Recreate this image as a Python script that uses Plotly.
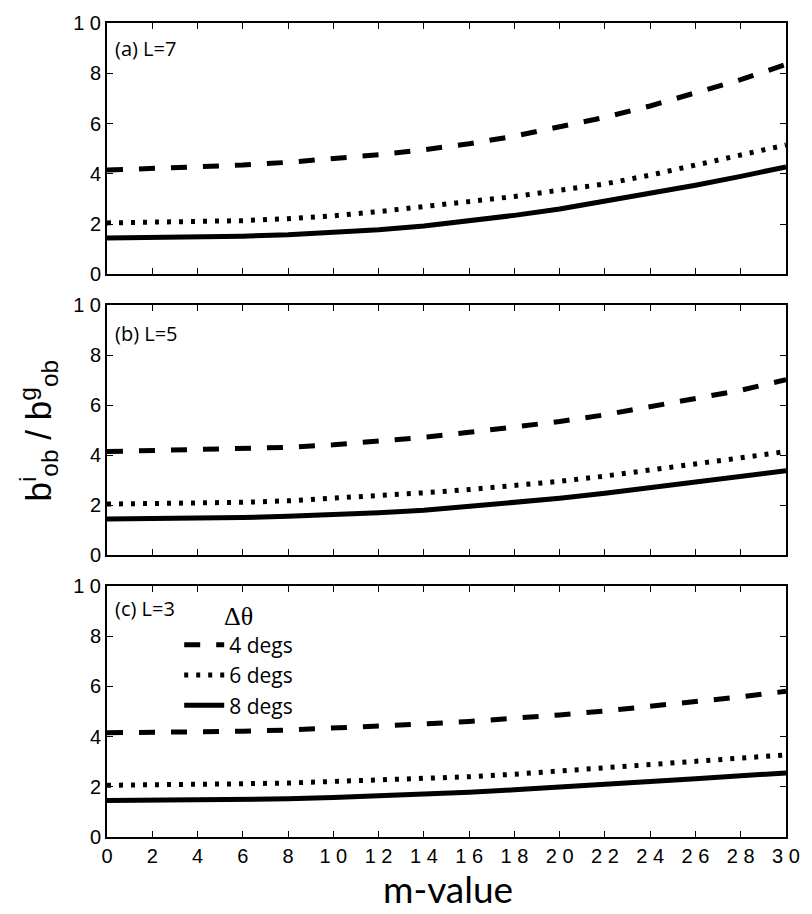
import plotly.graph_objects as go

m_values = [0, 2, 4, 6, 8, 10, 12, 14, 16, 18, 20, 22, 24, 26, 28, 30]

# Panel (a) L=7
a_4deg = [4.15, 4.20, 4.26, 4.35, 4.46, 4.60, 4.76, 4.96, 5.20, 5.50, 5.85, 6.25, 6.70, 7.20, 7.75, 8.35]
a_6deg = [2.05, 2.07, 2.10, 2.14, 2.22, 2.33, 2.50, 2.70, 2.88, 3.10, 3.35, 3.60, 3.95, 4.35, 4.75, 5.15]
a_8deg = [1.45, 1.46, 1.48, 1.52, 1.58, 1.66, 1.78, 1.93, 2.12, 2.35, 2.60, 2.90, 3.20, 3.55, 3.90, 4.28]

# Panel (b) L=5
b_4deg = [4.15, 4.18, 4.21, 4.25, 4.32, 4.42, 4.55, 4.72, 4.92, 5.12, 5.35, 5.62, 5.93, 6.25, 6.60, 7.02]
b_6deg = [2.05, 2.06, 2.09, 2.12, 2.18, 2.27, 2.38, 2.50, 2.63, 2.78, 2.96, 3.17, 3.40, 3.65, 3.90, 4.15]
b_8deg = [1.45, 1.46, 1.48, 1.51, 1.56, 1.62, 1.70, 1.80, 1.95, 2.10, 2.28, 2.48, 2.70, 2.92, 3.15, 3.38]

# Panel (c) L=3
c_4deg = [4.15, 4.16, 4.18, 4.21, 4.26, 4.33, 4.41, 4.50, 4.60, 4.72, 4.86, 5.02, 5.20, 5.39, 5.58, 5.80]
c_6deg = [2.06, 2.07, 2.09, 2.12, 2.15, 2.20, 2.26, 2.32, 2.40, 2.50, 2.62, 2.74, 2.87, 3.00, 3.13, 3.27]
c_8deg = [1.45, 1.46, 1.47, 1.49, 1.52, 1.57, 1.63, 1.70, 1.78, 1.88, 1.98, 2.09, 2.20, 2.32, 2.44, 2.55]

panel_labels = ["(a) L=7", "(b) L=5", "(c) L=3"]
series_names = ["4 degs", "6 degs", "8 degs"]
x_tick_vals = list(range(0, 31, 2))
x_tick_text = ["0", "2", "4", "6", "8", "1 0", "1 2", "1 4", "1 6", "1 8", "2 0", "2 2", "2 4", "2 6", "2 8", "3 0"]
y_tick_vals = [0, 2, 4, 6, 8, 10]
y_tick_text = ["0", "2", "4", "6", "8", "1 0"]

panels = [
    (a_4deg, a_6deg, a_8deg),
    (b_4deg, b_6deg, b_8deg),
    (c_4deg, c_6deg, c_8deg),
]
dash_styles = ["16px,16px", "4px,8px", "solid"]
widths = [5, 5, 5]

W, H = 812, 914
ml, mr, mt, mb = 107, 18.5, 17.7, 77.3
plot_h = H - mt - mb

def frac(ypix):
    return (H - mb - ypix) / plot_h

domains = [
    [frac(270.7), 1.0],
    [frac(553.3), frac(301.7)],
    [0.0, frac(584.0)],
]

fig = go.Figure()
axis_names = [("x", "y"), ("x2", "y2"), ("x3", "y3")]
for i, series in enumerate(panels):
    xa, ya = axis_names[i]
    for j, vals in enumerate(series):
        fig.add_trace(go.Scatter(
            x=m_values, y=vals, mode="lines",
            name=series_names[j],
            line=dict(color="black", width=widths[j], dash=dash_styles[j]),
            xaxis=xa, yaxis=ya,
            showlegend=(i == 2),
        ))

tick_font = dict(family="Liberation Sans, Arial, sans-serif", size=20, color="black")
common_x = dict(range=[0, 30], tickvals=x_tick_vals, ticktext=x_tick_text,
                ticks="inside", ticklen=6, tickwidth=1, tickcolor="black",
                showline=True, linewidth=2, linecolor="black", mirror="ticks",
                showgrid=False, zeroline=False, tickfont=tick_font)
common_y = dict(range=[0, 10], tickvals=y_tick_vals, ticktext=y_tick_text,
                ticks="inside", ticklen=6, tickwidth=1, tickcolor="black",
                showline=True, linewidth=2, linecolor="black", mirror="ticks",
                showgrid=False, zeroline=False, tickfont=tick_font)

layout = dict(
    width=W, height=H,
    margin=dict(l=ml, r=mr, t=mt, b=mb),
    paper_bgcolor="white", plot_bgcolor="white",
    showlegend=True,
    legend=dict(
        x=(180 - ml) / (W - ml - mr), y=frac(589), xanchor="left", yanchor="top",
        bgcolor="rgba(0,0,0,0)", borderwidth=0,
        font=dict(family="Open Sans, Lato, sans-serif", size=21, color="black"),
        title=dict(text="Δθ", side="top center",
                   font=dict(family="Liberation Serif, serif", size=26, color="black")),
        tracegroupgap=0, itemwidth=40,
    ),
)
for i in range(3):
    sx = "" if i == 0 else str(i + 1)
    xd = dict(common_x, domain=[0, 1], anchor="y" + sx)
    if i < 2:
        xd["showticklabels"] = False
        xd["matches"] = "x3"
    layout["xaxis" + sx] = xd
    layout["yaxis" + sx] = dict(common_y, domain=domains[i], anchor="x" + sx)

fig.update_layout(**layout)

label_y = [43, 330, 607]
for i, txt in enumerate(panel_labels):
    fig.add_annotation(text=txt, xref="paper", yref="paper",
                       x=(113 - ml) / (W - ml - mr), y=frac(label_y[i]),
                       xanchor="left", yanchor="middle", showarrow=False,
                       font=dict(family="Open Sans, Lato, sans-serif", size=20, color="black"))

fig.add_annotation(text="b<sup>i</sup><sub>ob</sub> / b<sup>g</sup><sub>ob</sub>",
                   xref="paper", yref="paper",
                   x=(38 - ml) / (W - ml - mr), y=frac(428),
                   xanchor="center", yanchor="middle", textangle=-90, showarrow=False,
                   font=dict(family="Liberation Sans, Arial, sans-serif", size=35, color="black"))

fig.add_annotation(text="m-value", xref="paper", yref="paper",
                   x=(452 - ml) / (W - ml - mr), y=frac(889),
                   xanchor="center", yanchor="middle", showarrow=False,
                   font=dict(family="Liberation Sans Narrow, Lato, sans-serif", size=37, color="black"))

fig.write_html("out.html")
